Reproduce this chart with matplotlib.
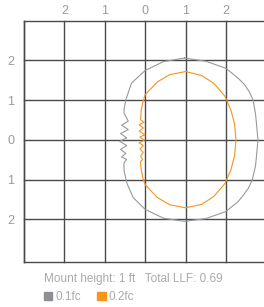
import numpy as np
import matplotlib
matplotlib.use('Agg')
import matplotlib.pyplot as plt
from matplotlib.patches import Patch

plt.rcParams['font.family'] = ['Liberation Sans', 'DejaVu Sans']

# grid ticks (labels show distance, no sign)
tick_vals = [-2, -1, 0, 1, 2]
tick_labels = ['2', '1', '0', '1', '2']

# 0.1 fc contour (ft), clockwise from the top
gray_x = [0.97, 1.5, 2.0, 2.3, 2.45, 2.57, 2.67, 2.73, 2.79, 2.73, 2.65, 2.55, 2.42, 2.3, 2.0, 1.5, 0.97,
          0.45, 0.0, -0.3, -0.45, -0.52, -0.527,
          -0.527, -0.46, -0.585, -0.48, -0.61, -0.46, -0.63, -0.46, -0.61, -0.42, -0.585, -0.42, -0.527,
          -0.52, -0.48, -0.34, 0.0, 0.45, 0.97]
gray_y = [2.06, 1.98, 1.80, 1.55, 1.40, 1.22, 1.0, 0.64, 0.0, -0.64, -1.0, -1.22, -1.40, -1.55, -1.80, -1.98, -2.05,
          -1.97, -1.75, -1.45, -1.1, -0.8, -0.66,
          -0.58, -0.49, -0.43, -0.34, -0.24, -0.14, -0.035, 0.05, 0.16, 0.26, 0.37, 0.47, 0.68,
          0.8, 1.01, 1.43, 1.75, 1.97, 2.06]

# 0.2 fc contour (ft)
orange_x = [1.0, 1.4, 1.7, 1.97, 2.12, 2.21, 2.245, 2.21, 2.12, 1.97, 1.7, 1.4, 1.0,
            0.6, 0.3, 0.0, -0.06, -0.1, -0.115,
            -0.115, -0.065, -0.115, -0.05, -0.13, -0.05, -0.15, -0.03, -0.13, -0.01, -0.15, -0.05, -0.15, -0.03, -0.115,
            -0.1, -0.06, 0.0, 0.3, 0.6, 1.0]
orange_y = [1.72, 1.62, 1.42, 1.10, 0.75, 0.40, 0.0, -0.40, -0.75, -1.10, -1.42, -1.62, -1.71,
            -1.63, -1.45, -1.13, -0.95, -0.75, -0.6,
            -0.54, -0.495, -0.41, -0.31, -0.23, -0.14, -0.075, -0.01, 0.075, 0.13, 0.22, 0.30, 0.385, 0.44, 0.51,
            0.75, 0.95, 1.14, 1.46, 1.64, 1.72]

gray_col = '#999999'
orange_col = '#f7941d'
grid_col = '#4a4a4a'
text_col = '#9a9a9a'

W, H = 264, 307
fig = plt.figure(figsize=(W / 100, H / 100), dpi=100)
# plot area in pixels: x 24..264, y 20.7..262.3
ax = fig.add_axes([24 / W, (H - 262.3) / H, (W - 24) / W, (262.3 - 20.7) / H])
ax.set_xlim(-3, (264 - 145.3) / 40.4)
ax.set_ylim(-2 - 43 / 39.8, 3)

for v in range(-3, 3):
    ax.axvline(v, color=grid_col, lw=1.0, clip_on=False, zorder=1)
for v in range(-2, 4):
    ax.axhline(v, color=grid_col, lw=1.0, clip_on=False, zorder=1)

for s in ['top', 'right']:
    ax.spines[s].set_visible(False)
for s in ['left', 'bottom']:
    ax.spines[s].set_color(grid_col)
    ax.spines[s].set_linewidth(1.0)

ax.plot(gray_x, gray_y, color=gray_col, lw=0.8, zorder=3)
ax.plot(orange_x, orange_y, color=orange_col, lw=0.8, zorder=4)

ax.set_xticks(tick_vals)
ax.set_xticklabels(tick_labels)
ax.set_yticks(tick_vals)
ax.set_yticklabels(tick_labels[::-1])
ax.xaxis.tick_top()
ax.tick_params(length=0, labelsize=9, labelcolor=text_col)
ax.tick_params(axis='x', pad=2.5)
ax.tick_params(axis='y', pad=7)

fig.text(44 / W, 1 - 279 / H, 'Mount height: 1 ft   Total LLF: 0.69',
         fontsize=8.5, color='#aaaaaa', va='center', ha='left')

handles = [Patch(color='#8e8e93', label='0.1fc'), Patch(color=orange_col, label='0.2fc')]
leg = fig.legend(handles=handles, loc='center left', bbox_to_anchor=(44 / W, 1 - 297 / H),
                 ncol=2, frameon=False, fontsize=8.5, handlelength=0.7, handleheight=0.7,
                 handletextpad=0.25, columnspacing=1.4, borderpad=0, borderaxespad=0)
for t in leg.get_texts():
    t.set_color('#aaaaaa')

fig.savefig('out.png', dpi=100)
